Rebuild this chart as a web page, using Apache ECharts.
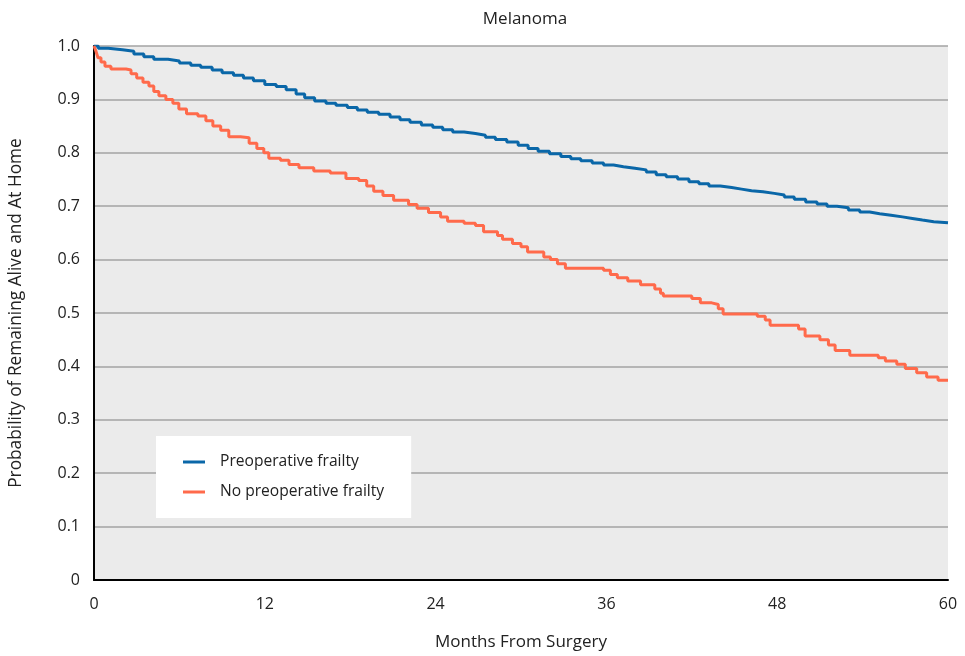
<!DOCTYPE html>
<html><head><meta charset="utf-8">
<script src="https://cdn.jsdelivr.net/npm/echarts@6/dist/echarts.min.js"></script>
<style>html,body{margin:0;padding:0;background:#fff}#c{width:965px;height:656px}</style>
</head><body><div id="c"></div>
<script>
const title = "Melanoma";
const xName = "Months From Surgery";
const yName = "Probability of Remaining Alive and At Home";
const seriesNames = ["Preoperative frailty", "No preoperative frailty"];
const xTicks = [0, 12, 24, 36, 48, 60];
const yTicks = [0, 0.1, 0.2, 0.3, 0.4, 0.5, 0.6, 0.7, 0.8, 0.9, 1.0];

const frailMonths = [0,0.3,1.0,2.0,2.8,3.5,4.2,5.2,6.0,6.8,7.5,8.3,9.0,9.8,10.5,11.2,12.0,12.8,13.5,14.2,14.8,15.5,16.3,17.0,17.8,18.5,19.2,20.0,20.8,21.5,22.2,23.0,23.8,24.5,25.2,26.0,26.8,27.5,28.2,29.0,29.8,30.5,31.2,32.0,32.8,33.5,34.2,35.0,35.8,36.5,37.2,38.0,38.8,39.5,40.2,41.0,41.8,42.5,43.2,44.0,44.8,45.5,46.2,47.0,47.8,48.5,49.2,50.0,50.8,51.5,52.2,53.0,53.8,54.5,55.2,56.0,56.8,57.5,58.2,59.0,60.0];
const frailValues = [1.0,0.996,0.993,0.99,0.985,0.98,0.975,0.972,0.968,0.964,0.96,0.955,0.95,0.945,0.94,0.935,0.928,0.924,0.918,0.91,0.903,0.897,0.893,0.889,0.885,0.88,0.876,0.872,0.867,0.862,0.857,0.852,0.848,0.843,0.839,0.836,0.833,0.829,0.825,0.82,0.814,0.808,0.803,0.798,0.793,0.789,0.785,0.781,0.777,0.774,0.771,0.768,0.764,0.759,0.755,0.751,0.746,0.742,0.738,0.735,0.732,0.729,0.727,0.724,0.721,0.717,0.713,0.708,0.704,0.7,0.697,0.693,0.689,0.686,0.683,0.68,0.677,0.674,0.671,0.669,0.669];

const noFrailMonths = [0,0.14,0.28,0.49,0.77,1.19,2.25,2.6,3.0,3.44,3.86,4.2,4.56,5.05,5.54,5.96,6.5,7.3,7.86,8.35,8.9,9.47,10.3,10.9,11.44,11.93,12.28,13.1,13.7,14.4,15.44,16.6,17.7,18.6,19.16,19.65,20.3,21.05,22.1,22.7,23.5,24.35,24.84,26.0,26.8,27.37,28.35,28.7,29.4,30.0,30.46,31.6,32.07,32.56,33.12,35.8,36.28,36.77,37.5,38.4,39.4,39.8,40.0,42.0,42.6,43.4,43.86,44.2,46.6,47.16,47.5,49.5,49.96,51.0,51.6,52.07,53.1,55.1,55.6,56.4,57.0,57.8,58.5,59.3,60.0];
const noFrailValues = [1.0,0.99,0.978,0.97,0.962,0.957,0.955,0.948,0.94,0.932,0.925,0.915,0.907,0.9,0.893,0.882,0.873,0.869,0.86,0.85,0.842,0.83,0.828,0.818,0.808,0.8,0.79,0.786,0.778,0.772,0.766,0.762,0.752,0.748,0.738,0.728,0.72,0.711,0.703,0.696,0.688,0.68,0.672,0.668,0.664,0.652,0.645,0.638,0.63,0.624,0.614,0.605,0.6,0.592,0.584,0.58,0.572,0.566,0.56,0.553,0.545,0.537,0.532,0.527,0.519,0.516,0.508,0.498,0.494,0.487,0.477,0.47,0.457,0.45,0.44,0.43,0.421,0.416,0.41,0.404,0.396,0.388,0.38,0.374,0.374];

const colors = ["#0a67a8", "#ff6a4b"];
const font = "'Open Sans', 'Noto Sans', sans-serif";
const zip = (a, b) => a.map((v, i) => [v, b[i]]);

const chart = echarts.init(document.getElementById('c'), null, {renderer: 'canvas'});
chart.setOption({
  animation: false,
  backgroundColor: '#fff',
  title: {text: title, left: 520, top: 6, textAlign: 'center',
    textStyle: {fontFamily: font, fontSize: 17, fontWeight: 'normal', color: '#222'}},
  grid: {left: 93, right: 17, top: 46, bottom: 74, show: true, backgroundColor: '#ebebeb', borderWidth: 0},
  legend: {
    orient: 'vertical', left: 156, top: 436,
    backgroundColor: '#fff', padding: [17, 27, 17, 27], itemGap: 12,
    itemWidth: 22, itemHeight: 3, icon: 'rect',
    textStyle: {fontFamily: font, fontSize: 15.6, color: '#222', padding: [0, 0, 0, 10], lineHeight: 18},
    data: seriesNames
  },
  xAxis: {
    type: 'value', min: 0, max: 60, interval: 12,
    name: xName, nameLocation: 'middle', nameGap: 54,
    nameTextStyle: {fontFamily: font, fontSize: 17, color: '#222'},
    axisLine: {show: true, lineStyle: {color: '#000', width: 2}},
    axisTick: {show: false},
    axisLabel: {fontFamily: font, fontSize: 16, color: '#222', margin: 16},
    splitLine: {show: false}
  },
  yAxis: {
    type: 'value', min: 0, max: 1, interval: 0.1,
    name: yName, nameLocation: 'middle', nameGap: 69,
    nameTextStyle: {fontFamily: font, fontSize: 17.3, color: '#222'},
    axisLine: {show: true, lineStyle: {color: '#000', width: 2}},
    axisTick: {show: false},
    axisLabel: {fontFamily: font, fontSize: 16, color: '#222', margin: 14,
      formatter: v => v === 0 ? '0' : v.toFixed(1)},
    splitLine: {show: true, lineStyle: {color: '#a3a3a3', width: 1.5}}
  },
  series: [
    {name: seriesNames[0], type: 'line', step: 'end', showSymbol: false, data: zip(frailMonths, frailValues),
      lineStyle: {color: colors[0], width: 3}, itemStyle: {color: colors[0]}},
    {name: seriesNames[1], type: 'line', step: 'end', showSymbol: false, data: zip(noFrailMonths, noFrailValues),
      lineStyle: {color: colors[1], width: 3}, itemStyle: {color: colors[1]}}
  ]
});
</script></body></html>
